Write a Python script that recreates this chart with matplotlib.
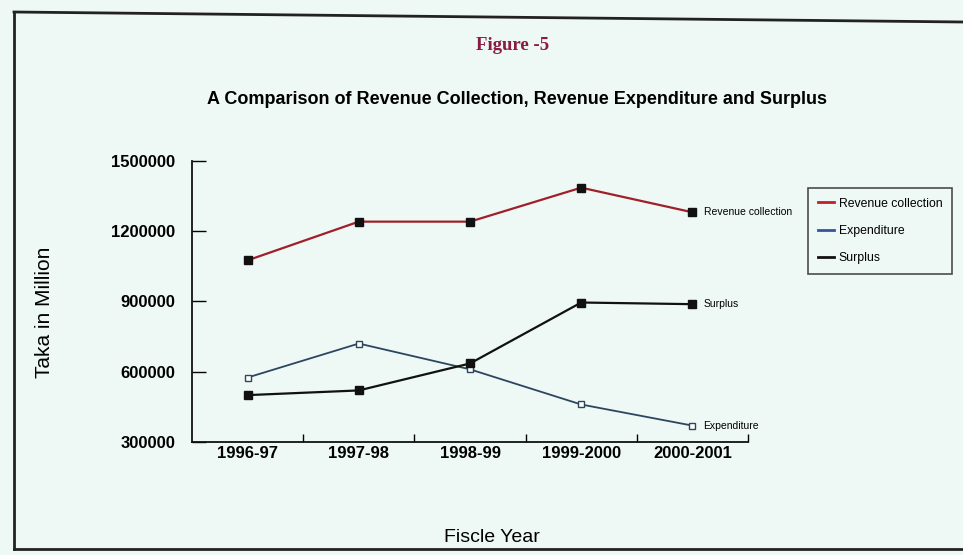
import matplotlib
matplotlib.use("Agg")
import matplotlib.pyplot as plt
from matplotlib.lines import Line2D

categories = ["1996-97", "1997-98", "1998-99", "1999-2000", "2000-2001"]
revenue = [1075000, 1240000, 1240000, 1385000, 1280000]
expenditure = [575000, 720000, 610000, 460000, 370000]
surplus = [500000, 520000, 635000, 895000, 888000]
yticks = [300000, 600000, 900000, 1200000, 1500000]
series_names = ["Revenue collection", "Expenditure", "Surplus"]

plt.rcParams['font.family'] = ['Liberation Sans', 'DejaVu Sans']

W, H = 963, 555
fig = plt.figure(figsize=(W / 100, H / 100), dpi=100)
fig.patch.set_facecolor("#eef8f4")

# scanned page frame
fig.add_artist(Line2D([14 / W, 14 / W], [1 - 549 / H, 1 - 12 / H], transform=fig.transFigure, color="#222222", lw=2))
fig.add_artist(Line2D([14 / W, 1.0], [1 - 12 / H, 1 - 22 / H], transform=fig.transFigure, color="#222222", lw=2))
fig.add_artist(Line2D([14 / W, 1.0], [1 - 549 / H, 1 - 549 / H], transform=fig.transFigure, color="#222222", lw=2))

ax = fig.add_axes([192 / W, 1 - 442 / H, (748 - 192) / W, (442 - 160.7) / H])
ax.set_facecolor("none")

x = list(range(len(categories)))
ax.plot(x, revenue, color="#a0202a", lw=1.6, marker="s", ms=5.5, mfc="#111111", mec="#111111", zorder=3)
ax.plot(x, expenditure, color="#2c4660", lw=1.3, marker="s", ms=5, mfc="white", mec="#2c4660", zorder=3)
ax.plot(x, surplus, color="#111111", lw=1.6, marker="s", ms=5.5, mfc="#111111", mec="#111111", zorder=3)

ax.set_xlim(-0.5, len(categories) - 0.5)
ax.set_ylim(300000, 1500000)
ax.set_yticks(yticks)
ax.set_yticklabels([str(v) for v in yticks], fontsize=12, fontweight="bold")
ax.set_xticks([i + 0.5 for i in range(len(categories))])
ax.set_xticklabels([])
ax.set_xticks(x, minor=True)
ax.set_xticklabels(categories, minor=True, fontsize=12, fontweight="bold")
ax.tick_params(axis="x", which="minor", length=0, pad=3)
ax.tick_params(axis="x", which="major", direction="in", length=6, width=1)
ax.tick_params(axis="y", direction="in", length=10, width=1, pad=12)
for s in ["top", "right"]:
    ax.spines[s].set_visible(False)
for s in ["left", "bottom"]:
    ax.spines[s].set_linewidth(1.3)
    ax.spines[s].set_color("#111111")

# end labels
ends = [revenue[-1], surplus[-1], expenditure[-1]]
names = ["Revenue collection", "Surplus", "Expenditure"]
for val, nm in zip(ends, names):
    ax.annotate(nm, (x[-1], val), xytext=(8, 0), textcoords="offset points",
                fontsize=7.5, va="center", ha="left", annotation_clip=False)

ax.set_ylabel("Taka in Million", fontsize=15)
ax.yaxis.set_label_coords(-0.248, 0.46)
fig.text(492 / W, 1 - 537 / H, "Fiscle Year", fontsize=14, ha="center", va="center")

fig.text(513 / W, 1 - 45 / H, "Figure -5", fontsize=13.5, ha="center", va="center",
         color="#8a1a40", family="Liberation Serif", fontweight="bold")
fig.text(517 / W, 1 - 100 / H, "A Comparison of Revenue Collection, Revenue Expenditure and Surplus",
         fontsize=13, fontweight="bold", ha="center", va="center")

handles = [Line2D([], [], color="#c0202a", lw=2),
           Line2D([], [], color="#3a50a0", lw=2),
           Line2D([], [], color="#111111", lw=2)]
leg = fig.legend(handles, series_names, loc="upper left",
                 bbox_to_anchor=(808 / W, 1 - 188 / H), fontsize=8.8,
                 frameon=True, fancybox=False, handlelength=1.3, handletextpad=0.4,
                 labelspacing=1.25, borderpad=0.8, borderaxespad=0)
leg.get_frame().set_edgecolor("#222222")
leg.get_frame().set_facecolor("none")
leg.get_frame().set_linewidth(1.2)

fig.savefig("out.png", dpi=100, facecolor=fig.get_facecolor())
